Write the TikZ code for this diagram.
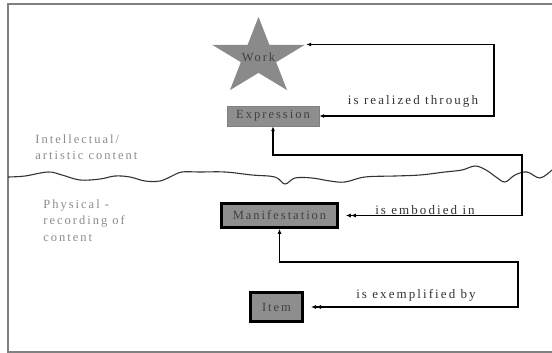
\documentclass[tikz,border=0pt]{standalone}
\usepackage{fontspec}
\setmainfont{Liberation Serif}
\newfontfamily\spacedfont[LetterSpace=16]{Liberation Serif}
\usetikzlibrary{shapes.geometric,arrows.meta}
\definecolor{stargray}{HTML}{8A8A8A}
\definecolor{boxgray}{HTML}{8E8E8E}
\definecolor{textgray}{HTML}{8C8C8C}
\begin{document}
\begin{tikzpicture}[x=1pt, y=-1pt, thick,
    entity/.style = {draw, rectangle, fill=boxgray, inner sep=0pt, text=black!75,
                     font=\spacedfont\fontsize{12.5}{14}\selectfont},
    region/.style = {align=left, anchor=north west, text=textgray, inner sep=0pt,
                     font=\spacedfont\fontsize{12.5}{16.5}\selectfont},
    lbl/.style = {text=black!80, inner sep=0pt, font=\spacedfont\fontsize{13}{15}\selectfont},
    rel/.style = {line width=1.7pt, black},
    tip/.tip = {Latex[length=5pt,width=4pt]},
    tipsep/.tip = {Latex[length=5pt,width=4pt,sep=7pt]}]
    \useasboundingbox (0,0) rectangle (552,353);
    %% Frame
    \draw[gray, line width=1.6pt] (552,4) -- (8,4) -- (8,352) -- (552,352);
    %% Boundary between the two levels
    \draw[black!80, line width=1.1pt] plot[smooth, tension=0.6] coordinates {
        (8,177) (25,176) (48,172) (62,175) (80,180) (100,179) (115,176) (130,177)
        (145,181) (160,181) (172,176) (182,172) (200,172) (225,172) (252,175)
        (275,177) (285,184) (295,178) (312,178) (330,181) (345,182) (365,177)
        (395,176) (420,175) (445,172) (462,170) (475,166) (486,170) (496,177)
        (505,182) (515,175) (527,172) (540,178) (552,170)};
    %% Regions
    \node[region] (intel) at (35,134) {Intellectual/\\artistic content};
    \node[region] (phys) at (43,199) {Physical -\\recording of\\content};
    %% Entities
    \node[star, star points=5, star point ratio=2.618, minimum size=81pt, xscale=1.2,
          fill=stargray, inner sep=0pt,
          label={[text=black!75, font=\spacedfont\fontsize{12.5}{14}\selectfont]center:Work}]
          (work) at (258.5,57.4) {};
    \node[entity, thin, draw=gray, minimum width=92pt, minimum height=20pt] (expr) at (273,116) {Expression};
    \node[entity, line width=2.6pt, minimum width=116pt, minimum height=24pt] (manif) at (279.5,215.5) {Manifestation};
    \node[entity, line width=3pt, minimum width=52pt, minimum height=29pt] (item) at (276.5,307) {Item};
    %% Bends
    \coordinate (rA) at (494,116);
    \coordinate (rB) at (522,155);
    \coordinate (rC) at (518,262);
    %% Arrows
    \draw[rel, {tip}-{tip}] (expr.east) -- (rA) |- (work.outer point 5);
    \draw[rel, {tipsep[]tip}-{tip}] (manif.east) -| (rB) -| (expr.south);
    \draw[rel, {tipsep[]tip}-{tip}] (item.east) -| (rC) -| (manif.south);
    %% Relation labels
    \node[lbl] (realized) at (413,101) {is realized through};
    \node[lbl] (embodied) at (425,210) {is embodied in};
    \node[lbl] (exempl) at (416,295) {is exemplified by};
\end{tikzpicture}
\end{document}
